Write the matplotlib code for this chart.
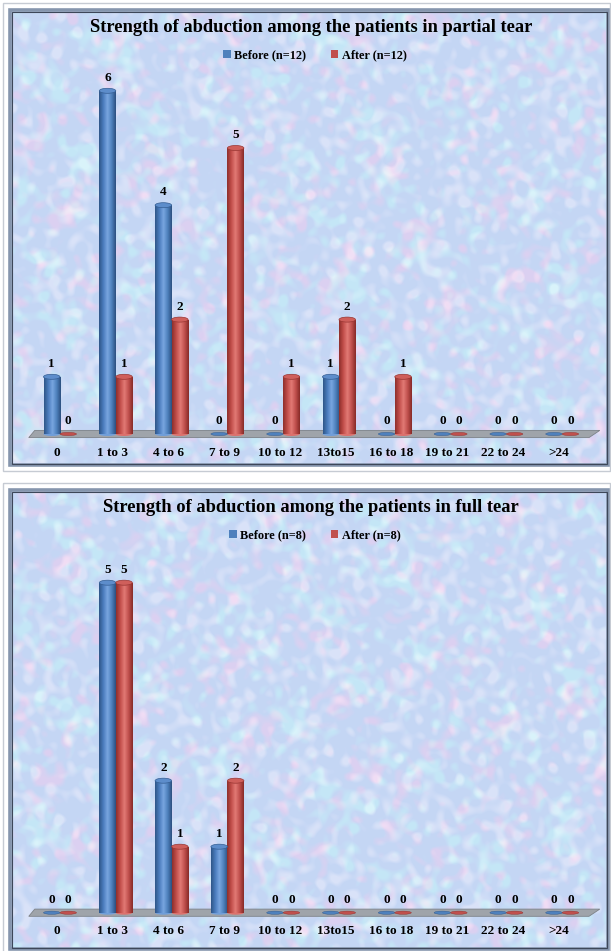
import numpy as np
import matplotlib
matplotlib.use('Agg')
import matplotlib.pyplot as plt
from matplotlib.patches import Rectangle, Ellipse, Polygon, Patch
from matplotlib.colors import LinearSegmentedColormap

# strength classes (abduction) and patient counts per class
categories = ['0', '1 to 3', '4 to 6', '7 to 9', '10 to 12', '13to15',
              '16 to 18', '19 to 21', '22 to 24', '>24']
partial_before = [1, 6, 4, 0, 0, 1, 0, 0, 0, 0]
partial_after = [0, 1, 2, 5, 1, 2, 1, 0, 0, 0]
full_before = [0, 5, 2, 1, 0, 0, 0, 0, 0, 0]
full_after = [0, 5, 1, 2, 0, 0, 0, 0, 0, 0]

W, H = 611, 951
FONT = 'Liberation Serif'

BLUE = ['#2f5688', '#4a7cbd', '#79a6e0', '#4f81bd', '#2c5080']
RED = ['#8e2f2c', '#c24e4a', '#e27a75', '#c0504d', '#872b28']
cmap_blue = LinearSegmentedColormap.from_list('cyl_b', BLUE)
cmap_red = LinearSegmentedColormap.from_list('cyl_r', RED)

fig = plt.figure(figsize=(W / 100, H / 100), dpi=100)
fig.patch.set_facecolor('white')


def speckle(xx, yy, freqs, turn, shift):
    out = np.zeros_like(xx)
    for k, f in enumerate(freqs):
        ang = turn + k * 2.39996
        out += np.sin(f * (np.cos(ang) * xx + np.sin(ang) * yy) + 1.7 * k + shift)
    return out / np.sqrt(len(freqs) / 2)


def texture(h, w, shift):
    """pastel marbled backdrop: light blue with pink, cyan and pale flecks"""
    yy, xx = np.mgrid[0:h, 0:w].astype(float)
    fine = [0.23, 0.37, 0.29, 0.44, 0.21, 0.33, 0.41, 0.26, 0.35, 0.31,
            0.47, 0.24, 0.39, 0.28, 0.34, 0.43, 0.25, 0.36]
    coarse = [0.07, 0.11, 0.06, 0.13, 0.09, 0.12]
    pink = speckle(xx, yy, fine, 0.3, shift) + 0.9 * speckle(xx, yy, coarse, 1.1, shift)
    cyan = speckle(xx, yy, fine, 1.9, -shift) + 0.9 * speckle(xx, yy, coarse, 2.6, -shift)
    pale = speckle(xx, yy, fine, 0.9, 2 * shift) + 0.5 * speckle(xx, yy, coarse, 0.2, shift)
    pink = 0.7 * np.clip((pink - 0.5) / 2.2, 0, 1)[..., None]
    cyan = 0.8 * np.clip((cyan - 0.3) / 2.2, 0, 1)[..., None]
    pale = 0.7 * np.clip((pale - 0.0) / 2.0, 0, 1)[..., None]
    base = np.array([0.77, 0.84, 0.96])
    img = base + pink * (np.array([0.90, 0.81, 0.94]) - base) \
        + cyan * (np.array([0.77, 0.92, 0.97]) - base) \
        + pale * (np.array([0.89, 0.91, 0.98]) - base)
    return np.clip(img, 0, 1)


def draw_panel(top, bottom, zero_px, unit_px, title, before, after, n, shift):
    left, right = 11, 608
    x0_px, step = 60, 55.8
    ax = fig.add_axes([left / W, 1 - bottom / H, (right - left) / W, (bottom - top) / H])
    xlim = ((left - x0_px) / step, (right - x0_px) / step)
    ylim = ((zero_px - bottom) / unit_px, (zero_px - top) / unit_px)
    ax.imshow(texture(bottom - top, right - left, shift), extent=(*xlim, *ylim),
              aspect='auto', zorder=0, interpolation='bilinear')

    # grey floor under the bars
    ft = 3.6 / unit_px
    sk = 6 / step
    floor = Polygon([(-0.56, -ft), (9.48, -ft), (9.48 + sk * 1.8, ft), (-0.56 + sk, ft)],
                    closed=True, facecolor='#9fa4aa', edgecolor='#7d8288',
                    lw=0.6, zorder=1)
    ax.add_patch(floor)

    x = np.arange(len(categories))
    bw = 16.5 / step
    cap_h = 5 / unit_px
    for vals, offs, cmap, col in [(before, -bw / 2, cmap_blue, BLUE[3]),
                                  (after, bw / 2, cmap_red, RED[3])]:
        bars = ax.bar(x + offs, vals, width=bw, color=col, zorder=2, lw=0)
        for rect, v in zip(bars, vals):
            cx = rect.get_x() + rect.get_width() / 2
            if v > 0:
                grad = np.linspace(0, 1, 64).reshape(1, -1)
                im = ax.imshow(grad, cmap=cmap, aspect='auto', zorder=3,
                               extent=(rect.get_x(), rect.get_x() + rect.get_width(),
                                       0, v), interpolation='bilinear')
                im.set_clip_path(rect)
                ax.add_patch(Ellipse((cx, 0), bw, cap_h * 0.8, facecolor=cmap(0.45),
                                     lw=0, zorder=2.5))
                ax.add_patch(Ellipse((cx, v), bw, cap_h, facecolor=cmap(0.35),
                                     edgecolor=cmap(0.05), lw=0.5, zorder=4))
            else:
                ax.add_patch(Ellipse((cx, 0), bw, 3.2 / unit_px, facecolor=col,
                                     edgecolor=cmap(0.0), lw=0.3, zorder=4))
            ax.text(cx, v + 7 / unit_px, str(v), ha='center', va='bottom',
                    fontsize=9.5, fontweight='bold', family=FONT, zorder=5)

    for i, c in enumerate(categories):
        ax.text(i - 0.06, -18.5 / unit_px, c, ha='center', va='center',
                fontsize=9.5, fontweight='bold', family=FONT, zorder=5)

    ax.set_xlim(*xlim)
    ax.set_ylim(*ylim)
    ax.axis('off')

    fig.text(311 / W, 1 - (top + 18) / H, title, ha='center', va='center',
             fontsize=13.3, fontweight='bold', family=FONT)
    handles = [Patch(facecolor=BLUE[3], edgecolor='none'),
               Patch(facecolor=RED[3], edgecolor='none')]
    fig.legend(handles, [f'Before (n={n})', f'After (n={n})'], ncol=2,
               loc='center', bbox_to_anchor=(315 / W, 1 - (top + 45) / H),
               frameon=False, handlelength=0.6, handleheight=0.6,
               handletextpad=0.3, columnspacing=2.0,
               prop={'family': FONT, 'weight': 'bold', 'size': 8.8})
    return ax


draw_panel(10, 465, 434, 57.2,
           'Strength of abduction among the patients in partial tear',
           partial_before, partial_after, 12, 0.0)
draw_panel(490, 949, 912.7, 66.0,
           'Strength of abduction among the patients in full tear',
           full_before, full_after, 8, 2.7)

# panel frames drawn in pixel space on top
frame = fig.add_axes([0, 0, 1, 1], zorder=10)
frame.set_xlim(0, W)
frame.set_ylim(H, 0)
frame.axis('off')
frame.patch.set_alpha(0)
for top, bottom in [(10, 465), (490, 949)]:
    frame.add_patch(Rectangle((3, top - 7), W - 4, bottom - top + 13, fill=False,
                              edgecolor='#c6cbd3', lw=1.0))
    frame.add_patch(Rectangle((10, top), 598, bottom - top, fill=False,
                              edgecolor='#8595ad', lw=2.6))
    frame.add_patch(Rectangle((11.5, top + 1.5), 595, bottom - top - 3, fill=False,
                              edgecolor='#3d4759', lw=0.8))

fig.savefig('out.png', dpi=100)
